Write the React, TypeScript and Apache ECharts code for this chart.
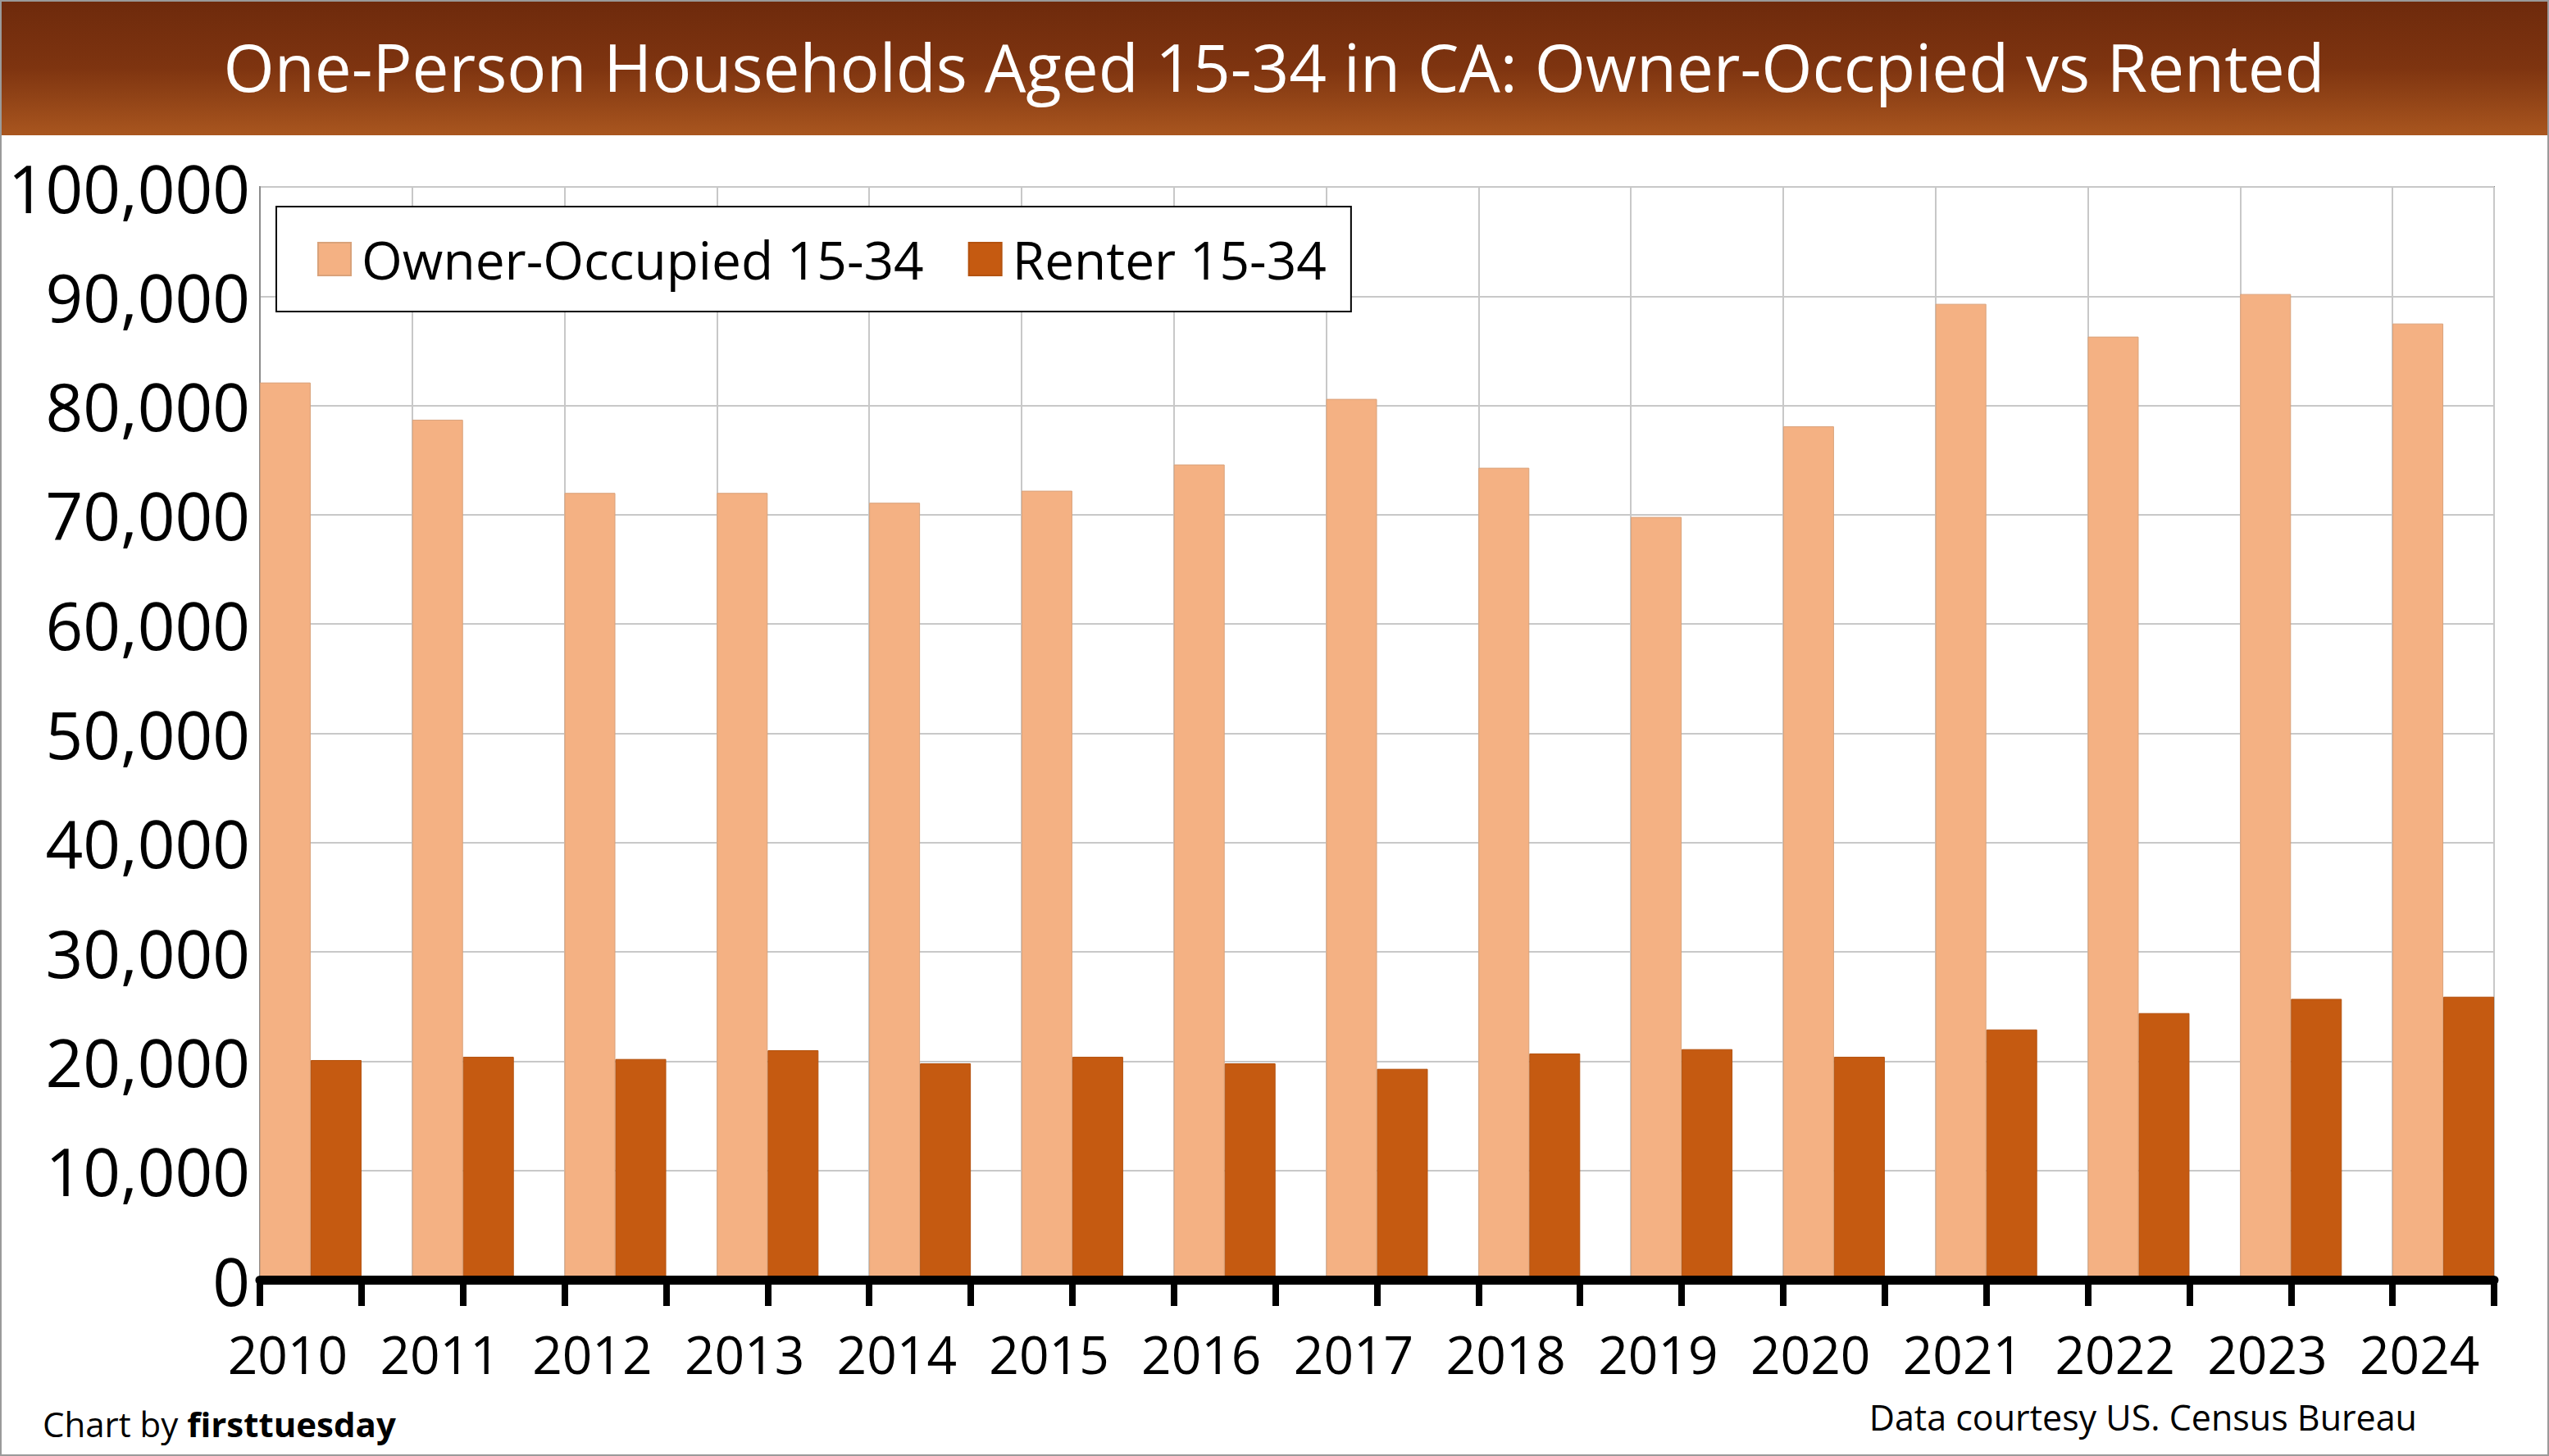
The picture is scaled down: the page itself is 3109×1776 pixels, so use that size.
import { useEffect, useRef } from 'react'
import * as echarts from 'echarts'

const years = ['2010', '2011', '2012', '2013', '2014', '2015', '2016', '2017', '2018', '2019', '2020', '2021', '2022', '2023', '2024']
const ownerOccupied = [82100, 78700, 72000, 72000, 71100, 72200, 74600, 80600, 74300, 69800, 78100, 89300, 86300, 90200, 87500]
const renter = [20100, 20400, 20200, 21000, 19800, 20400, 19800, 19300, 20700, 21100, 20400, 22900, 24400, 25700, 25900]

const FONT = '"Open Sans", "Noto Sans", sans-serif'

// the source chart puts each year's pair of bars on a 1.5-unit step of a 22-unit axis
const STEP = 1.5
const AXIS_MAX = 22
const PLOT_LEFT = 317
const PLOT_RIGHT = 67
const PLOT_TOP = 228
const PLOT_BOTTOM = 1561

export default function App() {
  const chartRef = useRef<HTMLDivElement>(null)

  useEffect(() => {
    document.body.style.margin = '0'
    if (!chartRef.current) return
    const chart = echarts.init(chartRef.current, undefined, { renderer: 'svg' })

    const pos = (i: number) => i * STEP + 0.5

    const option: echarts.EChartsOption = {
      animation: false,
      backgroundColor: '#ffffff',
      textStyle: { fontFamily: FONT },
      graphic: [
        {
          type: 'rect',
          shape: { x: 0, y: 0, width: 3109, height: 165 },
          style: {
            fill: new echarts.graphic.LinearGradient(0, 0, 0, 1, [
              { offset: 0, color: '#6e2a0c' },
              { offset: 0.5, color: '#7e3410' },
              { offset: 1, color: '#a9561f' }
            ])
          },
          z: -1
        },
        {
          type: 'rect',
          shape: { x: 1, y: 1, width: 3107, height: 1774 },
          style: { fill: 'none', stroke: '#9a9a9a', lineWidth: 2 }
        },
        {
          type: 'text',
          x: 1554,
          y: 80,
          style: {
            text: 'One-Person Households Aged 15-34 in CA: Owner-Occpied vs Rented',
            fill: '#ffffff',
            font: `80px ${FONT}`,
            align: 'center',
            verticalAlign: 'middle'
          }
        },
        {
          type: 'text',
          x: 52,
          y: 1736,
          style: {
            rich: {
              a: { fontSize: 42, fontFamily: FONT, fill: '#000' },
              b: { fontSize: 42, fontFamily: FONT, fontWeight: 'bold', fill: '#000' }
            },
            text: '{a|Chart by }{b|firsttuesday}',
            verticalAlign: 'middle'
          } as any
        },
        {
          type: 'text',
          x: 2948,
          y: 1728,
          style: {
            text: 'Data courtesy US. Census Bureau',
            fill: '#000',
            font: `43px ${FONT}`,
            align: 'right',
            verticalAlign: 'middle'
          }
        }
      ],
      legend: {
        left: 337,
        top: 252,
        itemWidth: 40,
        itemHeight: 40,
        itemGap: 54,
        padding: [32, 30, 32, 50],
        borderColor: '#000',
        borderWidth: 2,
        backgroundColor: '#fff',
        icon: 'rect',
        textStyle: { fontSize: 64, fontFamily: FONT, color: '#000', padding: [0, 0, 0, 8] },
        data: ['Owner-Occupied 15-34', 'Renter 15-34']
      },
      grid: [
        {
          left: PLOT_LEFT,
          right: PLOT_RIGHT,
          top: PLOT_TOP,
          bottom: 1776 - PLOT_BOTTOM,
          show: true,
          borderColor: '#8c8c8c',
          borderWidth: 2
        },
        {
          // strip for the year labels, shifted left like the source
          left: 258,
          right: 65,
          top: PLOT_BOTTOM - 10,
          bottom: 1776 - PLOT_BOTTOM
        }
      ],
      xAxis: [
        {
          // tick axis with the bars
          type: 'value',
          gridIndex: 0,
          position: 'bottom',
          min: 0,
          max: AXIS_MAX,
          interval: 1,
          axisLine: { lineStyle: { color: '#000', width: 11 } },
          axisTick: { show: true, length: 32, lineStyle: { color: '#000', width: 8 } },
          axisLabel: { show: false },
          splitLine: { show: false },
          z: 5
        },
        {
          // vertical gridlines at the left of each pair
          type: 'value',
          gridIndex: 0,
          position: 'top',
          min: 0,
          max: AXIS_MAX,
          interval: STEP,
          axisLine: { show: false },
          axisTick: { show: false },
          axisLabel: { show: false },
          splitLine: { show: true, lineStyle: { color: '#c8c8c8', width: 2 } }
        },
        {
          // year labels
          type: 'category',
          gridIndex: 1,
          position: 'bottom',
          data: years,
          axisLine: { show: false },
          axisTick: { show: false },
          splitLine: { show: false },
          axisLabel: {
            fontSize: 64,
            color: '#000',
            margin: 58,
            fontFamily: FONT,
            interval: 0
          }
        }
      ],
      yAxis: [
        {
          type: 'value',
          gridIndex: 0,
          min: 0,
          max: 100000,
          interval: 10000,
          axisLine: { show: true, lineStyle: { color: '#8c8c8c', width: 2 } },
          axisTick: { show: false },
          axisLabel: {
            fontSize: 80,
            color: '#000',
            margin: 12,
            fontFamily: FONT,
            formatter: (v: number) => v.toLocaleString('en-US')
          },
          splitLine: { lineStyle: { color: '#c8c8c8', width: 2 } }
        },
        {
          type: 'value',
          gridIndex: 1,
          min: 0,
          max: 1,
          show: false
        }
      ],
      series: [
        {
          name: 'Owner-Occupied 15-34',
          type: 'bar',
          xAxisIndex: 0,
          yAxisIndex: 0,
          data: ownerOccupied.map((v, i) => [pos(i), v]),
          barWidth: 62,
          barGap: '0%',
          itemStyle: { color: '#f4b183', borderColor: '#d9a27a', borderWidth: 1 },
          z: 3
        },
        {
          name: 'Renter 15-34',
          type: 'bar',
          xAxisIndex: 0,
          yAxisIndex: 0,
          data: renter.map((v, i) => [pos(i), v]),
          barWidth: 62,
          barGap: '0%',
          itemStyle: { color: '#c55a11', borderColor: '#b4520f', borderWidth: 1 },
          z: 3
        }
      ]
    }

    chart.setOption(option)
    return () => chart.dispose()
  }, [])

  return <div ref={chartRef} style={{ width: 3109, height: 1776 }} />
}
